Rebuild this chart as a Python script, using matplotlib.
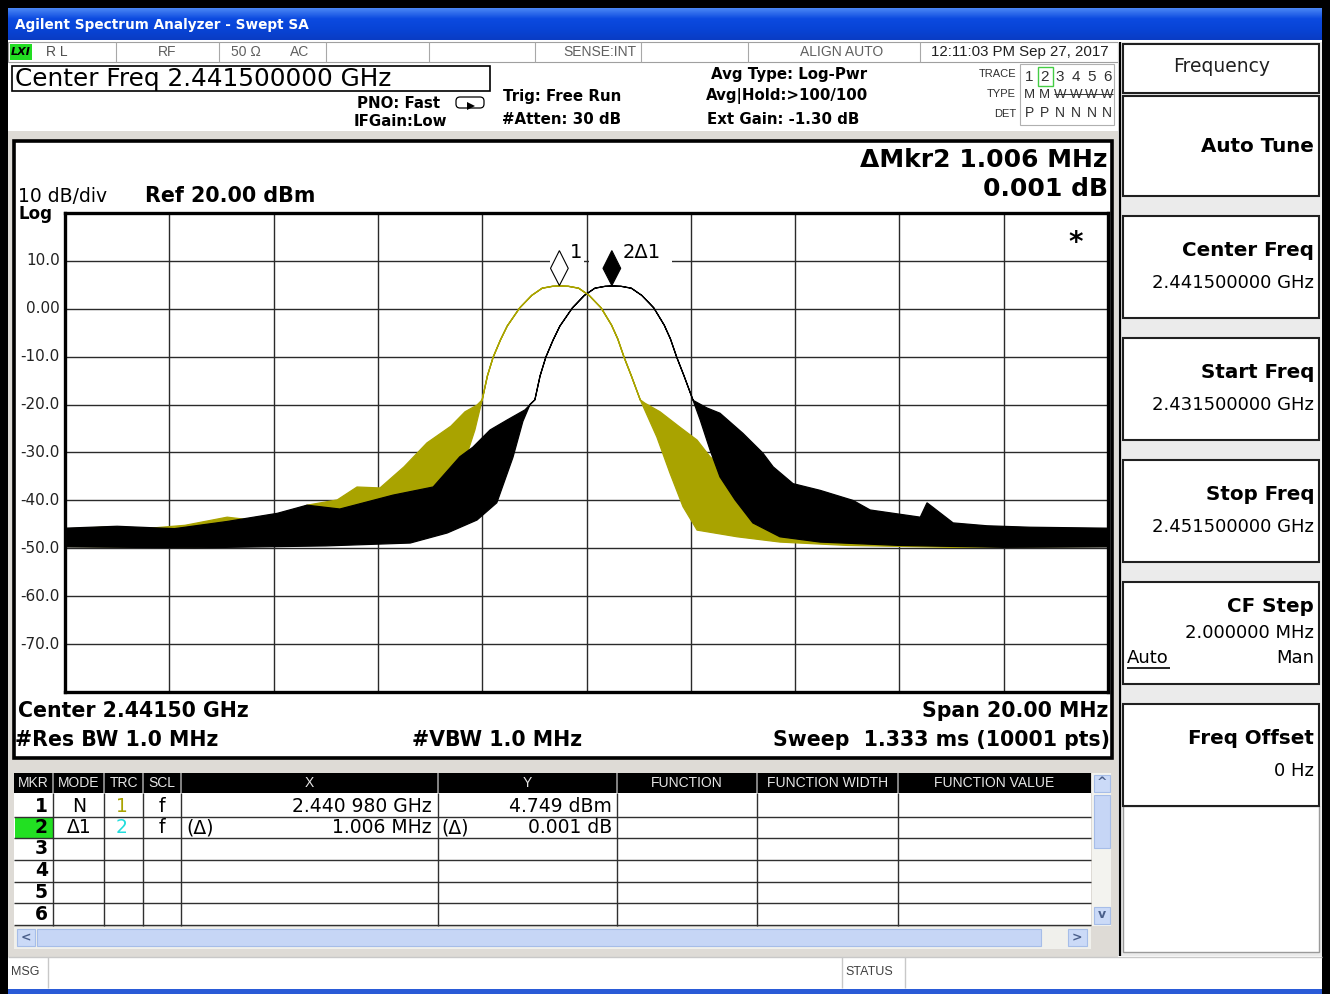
import numpy as np
import matplotlib.pyplot as plt
from matplotlib.patches import Rectangle, Polygon, FancyBboxPatch
from matplotlib.colors import LinearSegmentedColormap
from matplotlib.transforms import blended_transform_factory

W, H = 1330, 994
LIB = "Liberation Sans"

# sweep settings
start_mhz = 2431.5
stop_mhz = 2451.5
ref_dbm = 20.0
div_db = 10.0
n_div = 10
y_labels = ["10.0", "0.00", "-10.0", "-20.0", "-30.0", "-40.0", "-50.0", "-60.0", "-70.0"]

# markers
mkr1_mhz = 2440.980
mkr1_dbm = 4.749
mkr2_mhz = 2441.986
mkr2_dbm = 4.750

# trace 1 (yellow) - main lobe + skirts (upper / lower edge of the spiky band)
t1_lobe_f = [2439.50, 2439.60, 2439.71, 2439.85, 2439.98, 2440.22, 2440.45, 2440.65, 2440.85, 2440.98,
             2441.15, 2441.35, 2441.55, 2441.78, 2441.98, 2442.10, 2442.22, 2442.36, 2442.53]
t1_lobe_db = [-19.0, -14.0, -10.1, -6.5, -3.6, 0.2, 2.8, 4.3, 4.7, 4.75,
              4.7, 4.3, 2.8, 0.2, -3.4, -6.3, -10.1, -14.0, -19.0]
t1_left_top_f = [2431.50, 2432.20, 2433.13, 2433.80, 2434.61, 2435.24, 2435.80, 2436.14, 2436.72,
                 2437.10, 2437.54, 2438.00, 2438.44, 2438.90, 2439.17, 2439.40]
t1_left_top_db = [-46.0, -45.6, -45.8, -45.2, -43.5, -44.3, -42.8, -41.0, -39.9,
                  -37.2, -37.4, -33.0, -28.0, -24.5, -21.5, -20.1]
t1_left_bot_f = [2431.50, 2433.50, 2435.50, 2436.77, 2437.35, 2437.92, 2438.50, 2438.88, 2439.17, 2439.36]
t1_left_bot_db = [-49.6, -49.8, -49.4, -48.7, -47.2, -44.1, -39.9, -35.7, -31.6, -25.3]
t1_right_top_f = [2442.62, 2442.91, 2443.29, 2443.62, 2443.87, 2444.25, 2444.69, 2445.34, 2445.98,
                  2446.74, 2447.51, 2449.00, 2450.50, 2451.50]
t1_right_top_db = [-19.7, -21.5, -24.7, -27.4, -30.9, -34.3, -38.5, -42.0, -44.1,
                   -45.5, -45.8, -45.4, -45.9, -46.0]
t1_right_bot_f = [2442.85, 2443.10, 2443.35, 2443.62, 2444.39, 2445.21, 2446.50, 2448.50, 2451.50]
t1_right_bot_db = [-26.8, -34.3, -41.3, -46.2, -47.6, -48.7, -49.4, -49.8, -49.6]

# trace 2 (black)
t2_lobe_f = [2440.51, 2440.61, 2440.72, 2440.86, 2440.99, 2441.23, 2441.46, 2441.66, 2441.86, 2441.99,
             2442.16, 2442.36, 2442.56, 2442.79, 2442.99, 2443.11, 2443.23, 2443.37, 2443.54]
t2_lobe_db = [-19.0, -14.0, -10.1, -6.5, -3.6, 0.2, 2.8, 4.3, 4.7, 4.75,
              4.7, 4.3, 2.8, 0.2, -3.4, -6.3, -10.1, -14.0, -19.0]
t2_left_top_f = [2431.50, 2432.50, 2433.60, 2434.61, 2435.57, 2436.14, 2436.77, 2437.79, 2438.56,
                 2439.07, 2439.32, 2439.65, 2439.98, 2440.32]
t2_left_top_db = [-45.8, -45.4, -45.9, -44.4, -42.7, -41.0, -41.8, -38.9, -37.2,
                  -30.9, -28.9, -25.3, -23.2, -21.1]
t2_left_bot_f = [2431.50, 2434.00, 2436.50, 2438.12, 2438.83, 2439.40, 2439.78, 2440.09, 2440.28, 2440.42]
t2_left_bot_db = [-49.7, -49.9, -49.5, -48.9, -46.8, -44.1, -40.5, -31.0, -23.5, -19.9]
t2_right_top_f = [2443.56, 2443.81, 2444.06, 2444.50, 2444.88, 2445.08, 2445.46, 2445.98, 2446.61,
                  2446.94, 2447.90, 2448.03, 2448.53, 2449.18, 2450.00, 2451.50]
t2_right_top_db = [-19.2, -20.7, -21.8, -26.0, -30.1, -33.0, -36.5, -37.9, -40.0,
                   -42.0, -43.5, -40.5, -44.7, -45.3, -45.6, -45.8]
t2_right_bot_f = [2443.68, 2443.87, 2444.06, 2444.35, 2444.69, 2445.21, 2445.98, 2447.50, 2449.50, 2451.50]
t2_right_bot_db = [-23.2, -29.5, -35.1, -39.9, -44.7, -47.6, -48.7, -49.4, -49.8, -49.7]

# marker table
tbl_cols = ["MKR", "MODE", "TRC", "SCL", "X", "Y", "FUNCTION", "FUNCTION WIDTH", "FUNCTION VALUE"]
tbl_mkr = ["1", "2", "3", "4", "5", "6"]
tbl_mode = ["N", "Δ1"]
tbl_trc = ["1", "2"]
tbl_scl = ["f", "f"]
tbl_x = ["2.440 980 GHz", "1.006 MHz"]
tbl_y = ["4.749 dBm", "0.001 dB"]

# softkey menu
menu_labels = ["Auto Tune", "Center Freq", "Start Freq", "Stop Freq", "CF Step", "Freq Offset"]
menu_values = ["", "2.441500000 GHz", "2.431500000 GHz", "2.451500000 GHz", "2.000000 MHz", "0 Hz"]

YEL = "#a9a300"

fig = plt.figure(figsize=(13.3, 9.94), dpi=100)
fig.patch.set_facecolor("black")
bg = fig.add_axes([0, 0, 1, 1])
bg.axis("off")


def rect(x0, y0, x1, y1, fc="white", ec="none", lw=1.0, z=1):
    bg.add_patch(Rectangle((x0, y0), x1 - x0, y1 - y0, facecolor=fc, edgecolor=ec, linewidth=lw, zorder=z))


def line(x0, y0, x1, y1, c="black", lw=1.0, z=3):
    bg.plot([x0, x1], [y0, y1], color=c, lw=lw, zorder=z, solid_capstyle="butt")


def txt(x, y, s, size=11, ha="left", bold=False, c="black", fam="DejaVu Sans", z=5, **kw):
    bg.text(x, y, s, fontsize=size, ha=ha, va="center", fontweight="bold" if bold else "normal",
            color=c, family=fam, zorder=z, **kw)


# window + title bar
rect(8, 8, 1322, 990, fc="white", z=0.5)
rect(8, 989, 1322, 994, fc="#2a5bd7", z=0.6)
grad = np.linspace(0, 1, 40)[:, None] * np.ones((1, 50))
cmap = LinearSegmentedColormap.from_list("xp", ["#4a86f4", "#0c4ae0", "#0844d6", "#0a3cc4"])
bg.imshow(grad, extent=[8, 1322, 40, 8], aspect="auto", cmap=cmap, zorder=1)
bg.set_xlim(0, W)
bg.set_ylim(H, 0)
txt(15, 25, "Agilent Spectrum Analyzer - Swept SA", 9.8, bold=True, c="white")

# status row
rect(8, 42, 1118, 62, fc="white", ec="#a0a0a0", lw=0.8, z=1)
for xv in [116, 219, 326, 429, 535, 641, 748, 920]:
    line(xv, 42, xv, 62, c="#a8a8a8", lw=0.8)
rect(10, 44, 32, 60, fc="#22dd22", z=2)
txt(11, 52, "LXI", 8, bold=True, style="italic")
txt(46, 52, "R L", 10, fam=LIB, c="#505050")
txt(167, 52, "RF", 10, ha="center", fam=LIB, c="#606060")
txt(231, 52, "50 Ω", 10, fam=LIB, c="#606060")
txt(290, 52, "AC", 10, fam=LIB, c="#606060")
txt(636, 52, "SENSE:INT", 10, ha="right", fam=LIB, c="#606060")
txt(883, 52, "ALIGN AUTO", 10, ha="right", fam=LIB, c="#606060")
txt(1109, 52, "12:11:03 PM Sep 27, 2017", 10.8, ha="right", fam=LIB, c="#202020")

# header block
rect(12, 66, 490, 91, fc="white", ec="black", lw=1.2, z=2)
txt(15, 79, "Center Freq 2.441500000 GHz", 17.8)
txt(440, 103, "PNO: Fast", 10.8, bold=True, ha="right")
txt(447, 122, "IFGain:Low", 10.8, bold=True, ha="right")
bg.add_patch(FancyBboxPatch((457, 98), 26, 9, boxstyle="round,pad=1,rounding_size=4",
                            fc="white", ec="black", lw=0.9, zorder=3))
bg.add_patch(Polygon([[467, 102], [475, 106], [467, 110]], closed=True, fc="black", zorder=4))
txt(503, 96, "Trig: Free Run", 10.8, bold=True)
txt(502, 119, "#Atten: 30 dB", 10.8, bold=True)
txt(711, 74, "Avg Type: Log-Pwr", 10.8, bold=True)
txt(706, 96, "Avg|Hold:>100/100", 10.8, bold=True)
txt(707, 119, "Ext Gain: -1.30 dB", 10.8, bold=True)
txt(1016, 74, "TRACE", 8, ha="right", fam=LIB, c="#303030")
txt(1016, 94, "TYPE", 8, ha="right", fam=LIB, c="#303030")
txt(1016, 114, "DET", 8, ha="right", fam=LIB, c="#303030")
rect(1020, 64, 1114, 125, fc="white", ec="#b0b0b0", lw=0.8, z=1.5)
rect(1038, 67, 1053, 86, fc="none", ec="#44cc44", lw=1.0, z=2)
for i, (n, t, d) in enumerate(zip("123456", "MMWWWW", "PPNNNN")):
    cx = 1029 + 15.6 * i
    txt(cx, 77, n, 11, ha="center", fam=LIB, c="#303030")
    txt(cx, 95, t, 9.5, ha="center", fam=LIB, c="#303030")
    txt(cx, 113, d, 10, ha="center", fam=LIB, c="#303030")
line(1054, 94, 1113, 94, c="#303030", lw=0.7)

# gray surround for graph / table area
rect(8, 131, 1118, 957, fc="#dedbd6", z=0.8)
rect(14, 141, 1112, 758, fc="white", ec="black", lw=2.6, z=1.5)

# graph text
txt(18, 197, "10 dB/div", 13.5)
txt(18, 214, "Log", 12, bold=True)
txt(145, 196, "Ref 20.00 dBm", 14.9, bold=True)
txt(1108, 160, "ΔMkr2 1.006 MHz", 18, bold=True, ha="right")
txt(1108, 189, "0.001 dB", 18, bold=True, ha="right")
txt(18, 711, "Center 2.44150 GHz", 14.8, bold=True)
txt(15, 740, "#Res BW 1.0 MHz", 14.8, bold=True)
txt(412, 740, "#VBW 1.0 MHz", 14.8, bold=True)
txt(1108, 711, "Span 20.00 MHz", 14.8, bold=True, ha="right")
txt(1110, 740, "Sweep  1.333 ms (10001 pts)", 14.8, bold=True, ha="right")

# marker table
cols = [14, 53, 104, 143, 181, 438, 617, 757, 898, 1091]
rect(14, 773, 1091, 926, fc="white", z=2)
rect(14, 773, 1091, 793, fc="black", z=2.1)
for i, lab in enumerate(tbl_cols):
    txt((cols[i] + cols[i + 1]) / 2, 783, lab, 10, ha="center", fam=LIB, c="#e6e6e6")
    if i > 0:
        line(cols[i], 773, cols[i], 793, c="#9a9a9a", lw=1.2)
row_y = [795, 817, 838, 860, 882, 903, 925]
rect(15, 817, 53, 838, fc="#22e022", z=2.2)
for yv in row_y[1:]:
    line(14, yv, 1091, yv, c="#303030", lw=1.0)
for xv in cols[1:-1]:
    line(xv, 793, xv, 926, c="#303030", lw=1.0)
for i, m in enumerate(tbl_mkr):
    cy = (row_y[i] + row_y[i + 1]) / 2
    txt(48, cy, m, 13.5, ha="right", bold=True)
for i in range(2):
    cy = (row_y[i] + row_y[i + 1]) / 2
    txt(79, cy, tbl_mode[i], 13.5, ha="center")
    txt(122, cy, tbl_trc[i], 13.5, ha="center", c=[YEL, "#22dddd"][i])
    txt(162, cy, tbl_scl[i], 13.5, ha="center")
    txt(432, cy, tbl_x[i], 13.5, ha="right")
    txt(612, cy, tbl_y[i], 13.5, ha="right")
txt(186, 827.5, "(Δ)", 13.5)
txt(441, 827.5, "(Δ)", 13.5)

# scrollbars
rect(1092, 773, 1111, 926, fc="#f3f3ef", z=2)
rect(1094, 775, 1110, 792, fc="#cbdaf7", ec="#a6bde8", lw=0.8, z=2.2)
rect(1094, 795, 1110, 848, fc="#c6d6f6", ec="#a6bde8", lw=0.8, z=2.2)
rect(1094, 907, 1110, 924, fc="#cbdaf7", ec="#a6bde8", lw=0.8, z=2.2)
txt(1102, 783, "^", 9, ha="center", bold=True, c="#4a5f8a")
txt(1102, 914, "v", 9, ha="center", bold=True, c="#4a5f8a")
rect(14, 927, 1091, 949, fc="#f0f0ec", z=2)
rect(17, 929, 35, 946, fc="#cbdaf7", ec="#a6bde8", lw=0.8, z=2.2)
rect(37, 929, 1041, 946, fc="#c6d6f6", ec="#a6bde8", lw=0.8, z=2.2)
rect(1068, 929, 1087, 946, fc="#cbdaf7", ec="#a6bde8", lw=0.8, z=2.2)
txt(26, 937.5, "<", 9, ha="center", bold=True, c="#4a5f8a")
txt(1077, 937.5, ">", 9, ha="center", bold=True, c="#4a5f8a")

# message / status bar
rect(8, 957, 1322, 989, fc="white", z=1)
line(8, 957, 1322, 957, c="#c8c8c8", lw=1.0)
line(48, 957, 48, 988, c="#c8c8c8", lw=1.0)
line(842, 957, 842, 988, c="#c8c8c8", lw=1.0)
line(905, 957, 905, 988, c="#c8c8c8", lw=1.0)
txt(11, 972, "MSG", 9, fam=LIB, c="#404040")
txt(845, 972, "STATUS", 9, fam=LIB, c="#404040")

# softkey panel
rect(1118, 42, 1322, 956, fc="#ebebeb", z=1)
line(1120, 42, 1120, 956, c="black", lw=1.6)
rect(1123, 44, 1319, 93, fc="white", ec="#202020", lw=1.5, z=2)
txt(1222, 67, "Frequency", 13.5, ha="center", c="#202020")
menu_y = [(96, 196), (216, 318), (338, 440), (460, 562), (582, 684), (704, 806)]
for (y0, y1), lab, val in zip(menu_y, menu_labels, menu_values):
    rect(1123, y0, 1319, y1, fc="white", ec="#202020", lw=1.5, z=2)
    if val == "":
        txt(1314, (y0 + y1) / 2, lab, 14.3, bold=True, ha="right")
    elif lab == "CF Step":
        txt(1314, y0 + 25, lab, 14.3, bold=True, ha="right")
        txt(1314, y0 + 51, val, 13, ha="right")
        txt(1127, y0 + 76, "Auto", 13)
        line(1127, y0 + 86, 1170, y0 + 86, lw=1.2, z=6)
        txt(1314, y0 + 76, "Man", 13, ha="right")
    else:
        txt(1314, y0 + 35, lab, 14.3, bold=True, ha="right")
        txt(1314, y0 + 67, val, 13, ha="right")
rect(1123, 806, 1319, 952, fc="white", ec="#9a9a9a", lw=1.0, z=1.8)

# ---- trace graticule ----
ax = fig.add_axes([65 / W, 1 - 692 / H, 1043 / W, 479 / H])
ax.set_zorder(3)
ax.set_facecolor("white")
ax.set_xlim(start_mhz, stop_mhz)
ax.set_ylim(ref_dbm - n_div * div_db, ref_dbm)
ax.set_xticks(np.linspace(start_mhz, stop_mhz, n_div + 1))
ax.set_yticks(np.arange(ref_dbm - n_div * div_db, ref_dbm + 1, div_db))
ax.tick_params(length=0, labelbottom=False, labelleft=False)
ax.set_axisbelow(True)
ax.grid(True, color="#2a2a2a", lw=1.0)
for sp in ax.spines.values():
    sp.set_linewidth(2.4)
    sp.set_color("black")

tr = blended_transform_factory(ax.transAxes, ax.transData)
for i, lab in enumerate(y_labels):
    ax.text(-0.005, ref_dbm - (i + 1) * div_db, lab, transform=tr, ha="right", va="center",
            fontsize=11, color="#222222", clip_on=False)


def draw_trace(lt_f, lt_db, lobe_f, lobe_db, rt_f, rt_db, lb_f, lb_db, rb_f, rb_db, color, z):
    top_f = lt_f + lobe_f + rt_f
    top_db = lt_db + lobe_db + rt_db
    bot_f = lb_f + lobe_f + rb_f
    bot_db = lb_db + lobe_db + rb_db
    xs = top_f + bot_f[::-1]
    ys = top_db + bot_db[::-1]
    ax.fill(xs, ys, facecolor=color, edgecolor=color, lw=0.9, zorder=z)


draw_trace(t1_left_top_f, t1_left_top_db, t1_lobe_f, t1_lobe_db, t1_right_top_f, t1_right_top_db,
           t1_left_bot_f, t1_left_bot_db, t1_right_bot_f, t1_right_bot_db, YEL, 2)
draw_trace(t2_left_top_f, t2_left_top_db, t2_lobe_f, t2_lobe_db, t2_right_top_f, t2_right_top_db,
           t2_left_bot_f, t2_left_bot_db, t2_right_bot_f, t2_right_bot_db, "black", 3)
ax.plot(t1_lobe_f, t1_lobe_db, color=YEL, lw=1.0, zorder=3.5)

# marker label area hides the 10 dB graticule line
ax.add_patch(Rectangle((mkr1_mhz - 0.18, 9.3), 0.66, 1.4, fc="white", ec="none", zorder=1))
ax.add_patch(Rectangle((mkr1_mhz + 0.56, 9.3), 1.6, 1.4, fc="white", ec="none", zorder=1))


def diamond(f, lvl, filled):
    pts = [[f, lvl + 0.1], [f + 0.17, lvl + 3.7], [f, lvl + 7.4], [f - 0.17, lvl + 3.7]]
    ax.add_patch(Polygon(pts, closed=True, fc="black" if filled else "white", ec="black", lw=0.8, zorder=6))


diamond(mkr1_mhz, mkr1_dbm, False)
diamond(mkr2_mhz, mkr2_dbm, True)
ax.text(mkr1_mhz + 0.21, mkr1_dbm + 7.0, "1", fontsize=14, ha="left", va="center", zorder=6)
ax.text(mkr2_mhz + 0.21, mkr2_dbm + 7.0, "2Δ1", fontsize=14, ha="left", va="center", zorder=6)
ax.text(0.969, 0.937, "*", transform=ax.transAxes, fontsize=20, fontweight="bold", ha="center", va="center")

fig.savefig("out.png", dpi=100, facecolor=fig.get_facecolor())
